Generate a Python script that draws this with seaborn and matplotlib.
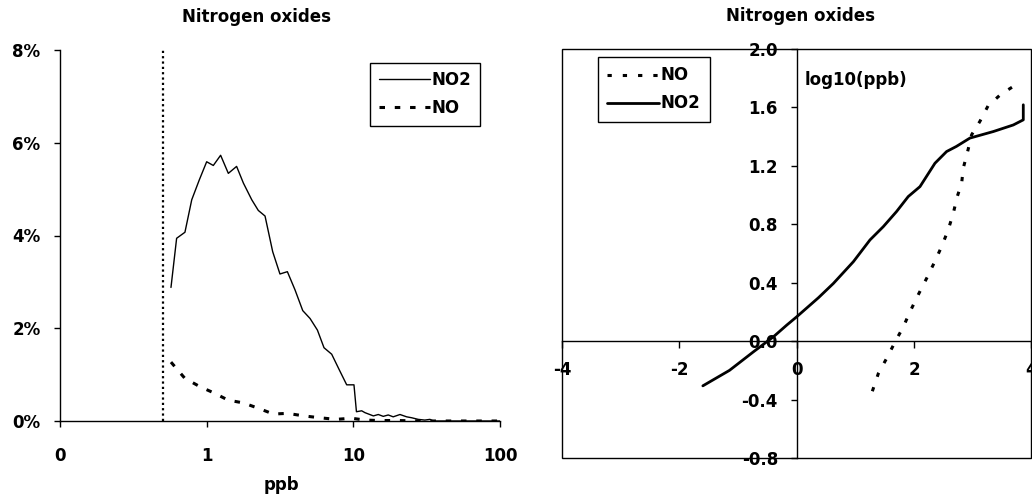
import matplotlib
matplotlib.use("Agg")
import matplotlib.pyplot as plt
import matplotlib.patches as patches
from matplotlib.ticker import PercentFormatter, FixedLocator, FixedFormatter, NullLocator
import seaborn as sns

# ---- data: left panel (frequency distribution, % of hours) ----
no2_ppb = [0.571, 0.624, 0.711, 0.791, 0.891, 1.0, 1.11, 1.245, 1.405, 1.60, 1.78, 2.03,
           2.25, 2.50, 2.82, 3.16, 3.55, 4.0, 4.52, 5.07, 5.69, 6.31, 7.12, 8.03, 9.01,
           10.1, 10.5, 11.4, 12.0, 12.7, 13.7, 14.8, 16.0, 17.3, 18.7, 20.8, 23.1, 25.0,
           27.7, 30.7, 33.3, 35.1, 45, 60, 80, 100]
no2_pct = [2.88, 3.94, 4.07, 4.77, 5.20, 5.59, 5.51, 5.73, 5.34, 5.49, 5.13, 4.77,
           4.54, 4.42, 3.65, 3.17, 3.22, 2.83, 2.38, 2.21, 1.96, 1.58, 1.44, 1.10, 0.78,
           0.78, 0.20, 0.22, 0.18, 0.15, 0.11, 0.14, 0.10, 0.13, 0.09, 0.14, 0.09, 0.07,
           0.035, 0.02, 0.035, 0.0, 0.0, 0.0, 0.0, 0.0]
no_ppb = [0.571, 0.71, 0.90, 1.13, 1.40, 1.78, 2.27, 2.85, 3.55, 4.6, 5.9, 7.6, 9.7,
          12, 15, 20, 30, 50, 100]
no_pct = [1.27, 0.92, 0.74, 0.60, 0.45, 0.39, 0.27, 0.15, 0.165, 0.11, 0.07, 0.035, 0.06,
          0.02, 0.01, 0.01, 0.0, 0.0, 0.0]
detect_limit = 0.5

# ---- data: right panel (probability plot, log10 ppb vs normal score) ----
no2_z = [-1.60, -1.146, -0.738, -0.397, -0.17, 0.0, 0.369, 0.624, 0.965, 1.248, 1.475,
         1.70, 1.90, 2.10, 2.355, 2.553, 2.72, 2.95, 3.35, 3.69, 3.86, 3.86]
no2_log = [-0.306, -0.20, -0.073, 0.03, 0.11, 0.167, 0.297, 0.395, 0.544, 0.693, 0.784,
           0.887, 0.99, 1.058, 1.218, 1.298, 1.333, 1.39, 1.435, 1.48, 1.515, 1.618]
no_z = [1.288, 1.39, 1.53, 1.685, 1.816, 1.929, 2.082, 2.213, 2.338, 2.468, 2.58, 2.667,
        2.735, 2.81, 2.837, 2.905, 2.98, 3.12, 3.26, 3.47, 3.69]
no_log = [-0.343, -0.222, -0.119, 0.002, 0.098, 0.201, 0.327, 0.43, 0.533, 0.647, 0.761,
          0.875, 0.99, 1.081, 1.184, 1.287, 1.413, 1.504, 1.611, 1.687, 1.744]

left_xticks = [0.1, 1, 10, 100]
left_xticklabels = ["0", "1", "10", "100"]
right_xticks = [-4, -2, 0, 2, 4]
right_yticks = [-0.8, -0.4, 0.0, 0.4, 0.8, 1.2, 1.6, 2.0]

sns.set_style("ticks")
plt.rcParams["font.family"] = ["DejaVu Sans"]
plt.rcParams["font.weight"] = "bold"
plt.rcParams["font.size"] = 12
plt.rcParams["text.color"] = "black"
plt.rcParams["axes.labelcolor"] = "black"
plt.rcParams["xtick.color"] = "black"
plt.rcParams["ytick.color"] = "black"
plt.rcParams["axes.edgecolor"] = "black"
FS = 12

W, H = 1032, 497
fig = plt.figure(figsize=(W / 100, H / 100), dpi=100)

# ---------------- left panel ----------------
axL = fig.add_axes([60 / W, 1 - 421 / H, 440 / W, 371 / H])
sns.lineplot(x=no2_ppb, y=no2_pct, ax=axL, color="black", lw=1.0, label="NO2",
             sort=False, estimator=None)
sns.lineplot(x=no_ppb, y=no_pct, ax=axL, color="black", lw=2.2, label="NO",
             sort=False, estimator=None)
axL.lines[1].set_dashes((1.8, 3.2))
axL.axvline(detect_limit, color="black", lw=1.6, linestyle=(0, (1, 1.4)))
axL.set_xscale("log")
axL.set_xlim(0.1, 100)
axL.set_ylim(0, 8)
axL.xaxis.set_major_locator(FixedLocator(left_xticks))
axL.xaxis.set_major_formatter(FixedFormatter(left_xticklabels))
axL.xaxis.set_minor_locator(NullLocator())
axL.yaxis.set_major_locator(FixedLocator([0, 2, 4, 6, 8]))
axL.yaxis.set_major_formatter(PercentFormatter(xmax=100, decimals=0))
for s in ["top", "right"]:
    axL.spines[s].set_visible(False)
for s in ["left", "bottom"]:
    axL.spines[s].set_color("black")
    axL.spines[s].set_linewidth(1.0)
axL.tick_params(axis="y", length=4, width=1, pad=10, colors="black", labelsize=FS)
axL.tick_params(axis="x", length=4, width=1, pad=15, colors="black", labelsize=FS)
for t in axL.get_xticklabels() + axL.get_yticklabels():
    t.set_fontweight("bold")
axL.set_xlabel("")
axL.set_ylabel("")
legL = axL.legend(loc="upper left", bbox_to_anchor=(0.705, 0.965), borderaxespad=0,
                  frameon=True, fancybox=False, edgecolor="black", framealpha=1,
                  handlelength=3.1, handletextpad=0.1, borderpad=0.5, labelspacing=0.6,
                  prop={"weight": "bold", "size": FS})
legL.get_frame().set_linewidth(1.0)

# ---------------- right panel ----------------
axR = fig.add_axes([562 / W, 1 - 458 / H, 469.5 / W, 409 / H])
sns.lineplot(x=no_z, y=no_log, ax=axR, color="black", lw=2.2, label="NO",
             sort=False, estimator=None)
sns.lineplot(x=no2_z, y=no2_log, ax=axR, color="black", lw=2.0, label="NO2",
             sort=False, estimator=None)
axR.lines[0].set_dashes((1.4, 3.6))
axR.set_xlim(-4, 4)
axR.set_ylim(-0.8, 2.0)
axR.xaxis.set_major_locator(FixedLocator(right_xticks))
axR.yaxis.set_major_locator(FixedLocator(right_yticks))
axR.set_yticklabels([f"{v:.1f}" for v in right_yticks])
axR.set_xticklabels([f"{v:d}" for v in right_xticks])
axR.spines["left"].set_position(("data", 0))
axR.spines["bottom"].set_position(("data", 0))
for s in ["top", "right"]:
    axR.spines[s].set_visible(False)
for s in ["left", "bottom"]:
    axR.spines[s].set_color("black")
    axR.spines[s].set_linewidth(1.0)
axR.add_patch(patches.Rectangle((0, 0), 1, 1, transform=axR.transAxes, fill=False,
                                edgecolor="black", lw=1.0, clip_on=False, zorder=5))
axR.tick_params(axis="y", length=4.5, width=1, pad=9, colors="black", labelsize=FS)
axR.tick_params(axis="x", length=5, width=1, pad=9, colors="black", labelsize=FS)
for t in axR.get_xticklabels() + axR.get_yticklabels():
    t.set_fontweight("bold")
axR.set_xlabel("")
axR.set_ylabel("")
axR.text(0.13, 1.79, "log10(ppb)", fontsize=FS, fontweight="bold", va="center",
         ha="left", color="black")
legR = axR.legend(loc="upper left", bbox_to_anchor=(0.077, 0.98), borderaxespad=0,
                  frameon=True, fancybox=False, edgecolor="black", framealpha=1,
                  handlelength=3.1, handletextpad=0.1, borderpad=0.55, labelspacing=0.6,
                  prop={"weight": "bold", "size": FS})
legR.get_frame().set_linewidth(1.0)

# ---------------- titles / labels ----------------
fig.text(257 / W, 1 - 17 / H, "Nitrogen oxides", ha="center", va="center",
         fontsize=FS, fontweight="bold", color="black")
fig.text(800 / W, 1 - 16 / H, "Nitrogen oxides", ha="center", va="center",
         fontsize=FS, fontweight="bold", color="black")
fig.text(281 / W, 1 - 485 / H, "ppb", ha="center", va="center",
         fontsize=FS, fontweight="bold", color="black")

fig.savefig("out.png", dpi=100, facecolor="white")
